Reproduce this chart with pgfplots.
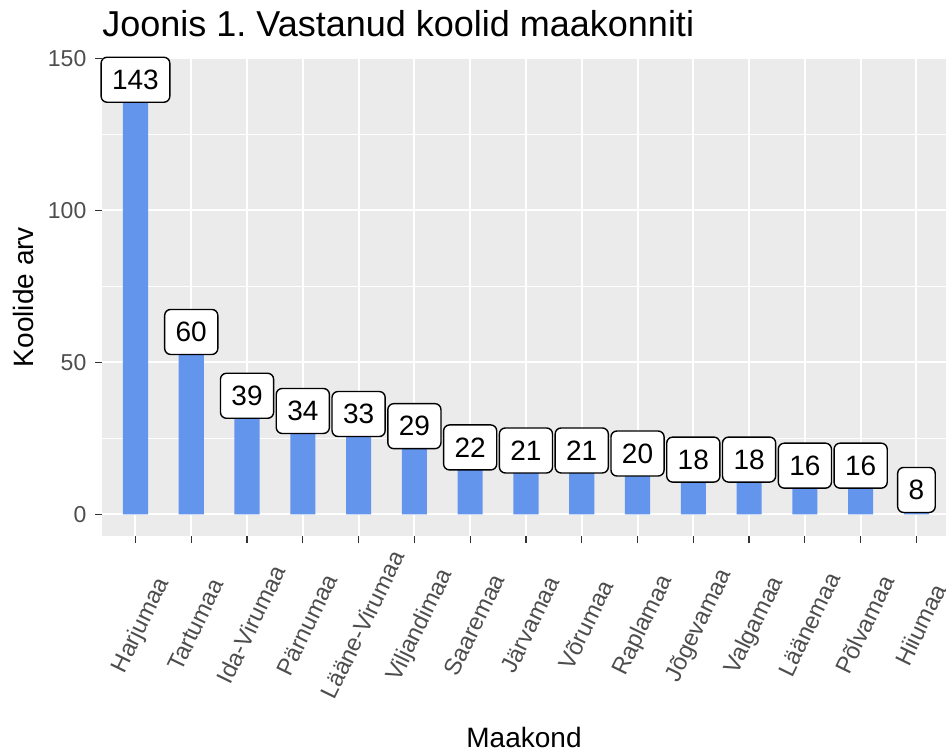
\documentclass[border=0pt]{standalone}
\usepackage{pgfplots}
\pgfplotsset{compat=1.18}
\usepackage{fontspec}
\setmainfont{Liberation Sans}
\definecolor{ggbg}{HTML}{EBEBEB}
\definecolor{cb}{HTML}{6495ED}
\definecolor{tickcol}{HTML}{4D4D4D}
\definecolor{tickmark}{HTML}{333333}
\frenchspacing
\begin{document}
\begin{tikzpicture}
\useasboundingbox (-51pt,-108pt) rectangle (422pt,268pt);
\begin{axis}[
  at={(0pt,0pt)}, anchor=south west,
  scale only axis, width=422pt, height=239pt,
  xmin=0.4, xmax=15.53, ymin=-7.15, ymax=150.15,
  axis background/.style={fill=ggbg},
  axis line style={draw=none},
  tick pos=left, tick align=outside,
  major tick length=3.5pt, minor tick length=0pt,
  every tick/.style={draw=tickmark, line width=0.6pt},
  xtick={1,...,15},
  xticklabels={Harjumaa,Tartumaa,Ida-Virumaa,Pärnumaa,Lääne-Virumaa,Viljandimaa,Saaremaa,Järvamaa,Võrumaa,Raplamaa,Jõgevamaa,Valgamaa,Läänemaa,Põlvamaa,Hiiumaa},
  ytick={0,50,100,150}, minor ytick={25,75,125},
  grid=both,
  major grid style={white, line width=1pt},
  minor grid style={white, line width=0.5pt},
  /pgf/number format/assume math mode=true,
  yticklabel style={font=\fontsize{11.5}{12}\selectfont, text=tickcol, xshift=-0.8pt},
  xticklabel style={font=\fontsize{11.8}{12}\selectfont, text=tickcol, xshift=3.5pt, yshift=-41.5pt, rotate=64, anchor=center, text height=0.72em, text depth=0.21em},
  title={Joonis 1. Vastanud koolid maakonniti},
  title style={at={(axis description cs:0,1.0209)}, anchor=base west, font=\fontsize{18}{20}\selectfont, inner sep=0pt},
  xlabel={Maakond},
  xlabel style={at={(axis description cs:0.5,-0.4414)}, anchor=base, font=\fontsize{14}{16}\selectfont, inner sep=0pt},
  ylabel={Koolide arv},
  ylabel style={at={(axis description cs:-0.0936,0.5)}, anchor=center, font=\fontsize{14}{16}\selectfont},
  clip=false,
]
\addplot[ybar, bar width=0.45, fill=cb, draw=none] coordinates {
 (1,143) (2,60) (3,39) (4,34) (5,33) (6,29) (7,22) (8,21) (9,21) (10,20) (11,18) (12,18) (13,16) (14,16) (15,8)
};
\addplot[draw=none, mark=none, nodes near coords,
  every node near coord/.append style={anchor=center, font=\fontsize{14}{14}\selectfont, draw=black, line width=0.7pt, fill=white, rounded corners=3pt, inner xsep=5.5pt, inner ysep=0pt, minimum height=22.5pt, text=black}]
 coordinates {
 (1,143) (2,60) (3,39) (4,34) (5,33) (6,29) (7,22) (8,21) (9,21) (10,20) (11,18) (12,18) (13,16) (14,16) (15,8)
};
\end{axis}
\end{tikzpicture}
\end{document}
